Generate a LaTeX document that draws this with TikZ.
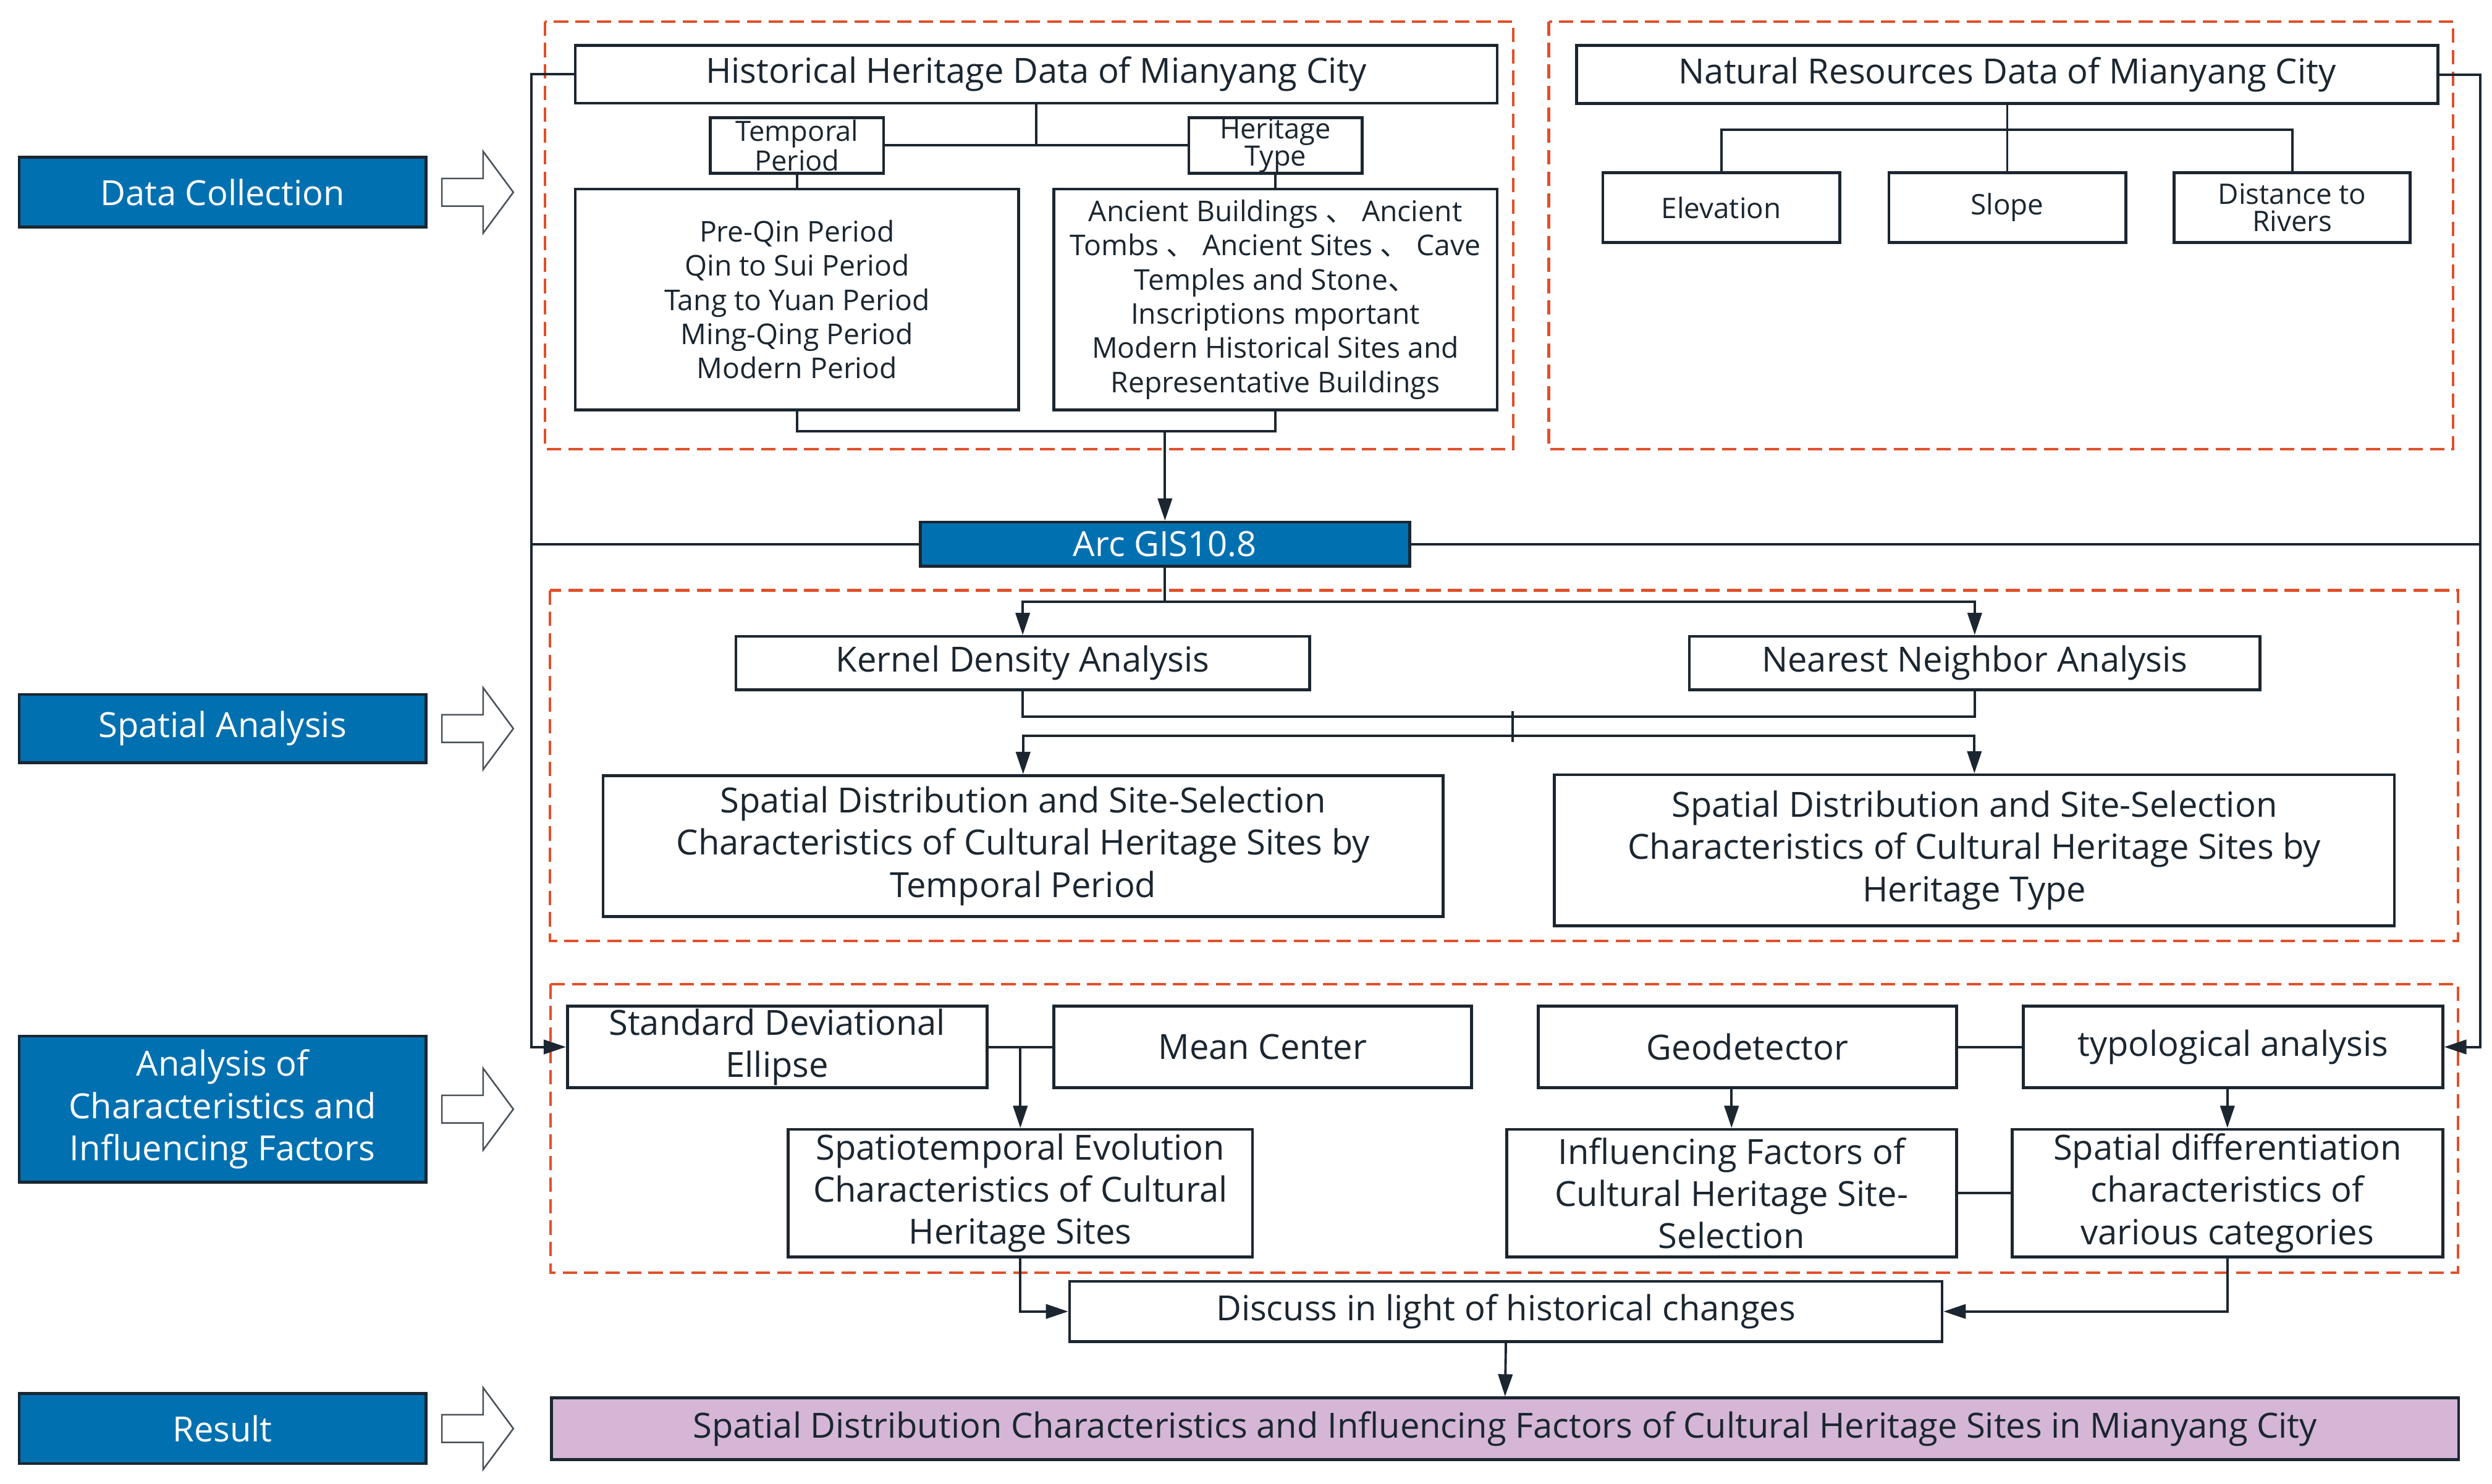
\documentclass[tikz,border=0pt]{standalone}
\usepackage{fontspec}
\setmainfont{Open Sans}
\newfontfamily\cjk{Noto Sans CJK SC}
\usetikzlibrary{arrows.meta,calc}
\definecolor{dk}{HTML}{1B2630}
\definecolor{bl}{HTML}{0070B0}
\definecolor{rd}{HTML}{E0502A}
\definecolor{pu}{HTML}{D5B6D6}
\begin{document}
\begin{tikzpicture}[x=1pt,y=-1pt,
 box/.style={draw=dk,line width=1.8pt,fill=white,inner sep=0pt,align=center,text=dk,font=\fontsize{21.8}{26.5}\selectfont},
 bluebox/.style={box,fill=bl,text=white},
 smallbox/.style={box,font=\fontsize{17.6}{17}\selectfont},
 listbox/.style={box,font=\fontsize{18}{21.5}\selectfont},
 factbox/.style={box,font=\fontsize{17.8}{17}\selectfont},
 conn/.style={draw=dk,line width=1.5pt},
 arr/.style={conn,-{Triangle[length=14pt,width=9pt]}},
 grp/.style={draw=rd,line width=1.6pt,dash pattern=on 9pt off 4.5pt},
 hol/.style={draw=dk!80,line width=1pt,fill=white}
]
\useasboundingbox (0,0) rectangle (1568,933.5);

% group frames
\draw[grp] (343,13.5) rectangle (952,282.5);
\draw[grp] (974.5,13.5) rectangle (1543.5,282.5);
\draw[grp] (346,371.5) rectangle (1546.5,592);
\draw[grp] (346.5,619.5) rectangle (1546.5,801);

% left stage labels
\node[bluebox,minimum width=256pt,minimum height=44pt] (dc) at (140,121) {Data Collection};
\node[bluebox,minimum width=256pt,minimum height=43pt] (sa) at (140,458.5) {Spatial Analysis};
\node[bluebox,minimum width=256pt,minimum height=92pt] (af) at (140,698) {Analysis of\\Characteristics and\\Influencing Factors};
\node[bluebox,minimum width=256pt,minimum height=44pt] (res) at (140,899) {Result};

\foreach \yy in {121,458.5,698,899}{
  \draw[hol] (278,\yy-8.7) -- (304,\yy-8.7) -- (304,\yy-25.7) -- (323,\yy) -- (304,\yy+25.7) -- (304,\yy+8.7) -- (278,\yy+8.7) -- cycle;
}

% data collection
\node[box,minimum width=580pt,minimum height=36.5pt] (hist) at (652,46.75) {Historical Heritage Data of Mianyang City};
\node[smallbox,minimum width=109pt,minimum height=35pt] (tp) at (501.5,91.5) {Temporal\\Period};
\node[smallbox,minimum width=109pt,minimum height=35pt] (ht) at (802.5,91.5) {Heritage\\Type};
\node[listbox,minimum width=279pt,minimum height=139pt] (per) at (501.5,188.5) {Pre-Qin Period\\Qin to Sui Period\\Tang to Yuan Period\\Ming-Qing Period\\Modern Period};
\node[listbox,minimum width=279pt,minimum height=139pt] (typs) at (802.5,188.5) {Ancient Buildings {\cjk 、} Ancient\\Tombs {\cjk 、} Ancient Sites {\cjk 、} Cave\\Temples and Stone{\cjk 、}\\Inscriptions mportant\\Modern Historical Sites and\\Representative Buildings};

\node[box,minimum width=542pt,minimum height=36.6pt] (nat) at (1263,46.9) {Natural Resources Data of Mianyang City};
\node[factbox,minimum width=149pt,minimum height=43.8pt] (elev) at (1083,130.6) {Elevation};
\node[factbox,minimum width=149pt,minimum height=43.8pt] (slope) at (1263,130.6) {Slope};
\node[factbox,minimum width=148.5pt,minimum height=43.8pt] (dist) at (1442.3,130.6) {Distance to\\Rivers};

\node[bluebox,minimum width=308pt,minimum height=27.8pt] (arc) at (733,342.4) {Arc GIS10.8};

% spatial analysis
\node[box,minimum width=361pt,minimum height=33.5pt] (kda) at (643.5,417.25) {Kernel Density Analysis};
\node[box,minimum width=359pt,minimum height=33.5pt] (nna) at (1242.5,417.25) {Nearest Neighbor Analysis};
\node[box,minimum width=528.5pt,minimum height=88.7pt] (sdl) at (643.75,532.4) {Spatial Distribution and Site-Selection\\Characteristics of Cultural Heritage Sites by\\Temporal Period};
\node[box,minimum width=528.6pt,minimum height=95pt] (sdr) at (1242.3,535.1) {Spatial Distribution and Site-Selection\\Characteristics of Cultural Heritage Sites by\\Heritage Type};

% analysis
\node[box,minimum width=264pt,minimum height=51.3pt] (sde) at (489,658.85) {Standard Deviational\\Ellipse};
\node[box,minimum width=263pt,minimum height=51.3pt] (mc) at (794.5,658.85) {Mean Center};
\node[box,minimum width=263pt,minimum height=51.3pt] (geo) at (1099.5,658.85) {Geodetector};
\node[box,minimum width=264pt,minimum height=51.3pt] (typ) at (1405,658.85) {typological analysis};
\node[box,minimum width=292pt,minimum height=80.3pt] (ste) at (642,750.85) {Spatiotemporal Evolution\\Characteristics of Cultural\\Heritage Sites};
\node[box,minimum width=283pt,minimum height=80.3pt] (inf) at (1089.5,750.85) {Influencing Factors of\\Cultural Heritage Site-\\Selection};
\node[box,minimum width=271pt,minimum height=80.3pt] (spd) at (1401.5,750.85) {Spatial differentiation\\characteristics of\\various categories};
\node[box,minimum width=549pt,minimum height=38pt] (disc) at (947.5,825.3) {Discuss in light of historical changes};
\node[box,fill=pu,minimum width=1200pt,minimum height=38.8pt] (fin) at (947,899.1) {Spatial Distribution Characteristics and Influencing Factors of Cultural Heritage Sites in Mianyang City};

% helper coordinates
\coordinate (lx) at (334.5,0);
\coordinate (rx) at (1560.5,0);
\coordinate (jb) at (501.5,271.5);
\coordinate (nb) at (1263,81.5);
\coordinate (sb) at (733,378.6);
\coordinate (m1) at (951.6,451);
\coordinate (m2) at (951.6,463);
\coordinate (mt) at (951.6,447.4);
\coordinate (mb) at (951.6,467);

% data collection connectors
\draw[conn] (hist.south) -- (hist.south |- tp.east);
\draw[conn] (tp.east) -- (ht.west);
\draw[conn] (tp.south) -- (per.north);
\draw[conn] (ht.south) -- (typs.north);
\draw[conn] (per.south) -- (jb) -- (jb -| typs.south) -- (typs.south);
\draw[arr] (jb -| arc.north) -- (arc.north);
\draw[conn] (nat.south) -- (slope.north);
\draw[conn] (elev.north) -- (elev.north |- nb) -- (dist.north |- nb) -- (dist.north);

% side lines
\draw[arr] (hist.west) -- (hist.west -| lx) -- (sde.west -| lx) -- (sde.west);
\draw[arr] (nat.east) -- (nat.east -| rx) -- (typ.east -| rx) -- (typ.east);
\draw[conn] (arc.west) -- (arc.west -| lx);
\draw[conn] (arc.east) -- (arc.east -| rx);

% spatial analysis connectors
\draw[conn] (arc.south) -- (sb);
\draw[arr] (sb) -| (kda.north);
\draw[arr] (sb) -| (nna.north);
\draw[conn] (kda.south) |- (m1) -| (nna.south);
\draw[conn] (mt) -- (mb);
\draw[arr] (m2) -| (sdl.north);
\draw[arr] (m2) -| (sdr.north);

% analysis connectors
\draw[conn] (sde.east) -- (mc.west);
\draw[arr] (ste.north |- sde.east) -- (ste.north);
\draw[conn] (geo.east) -- (typ.west);
\draw[arr] (geo.south -| inf.north) -- (inf.north);
\draw[arr] (typ.south -| spd.north) -- (spd.north);
\draw[conn] (inf.east) -- (spd.west);
\draw[arr] (ste.south) |- (disc.west);
\draw[arr] (spd.south) |- (disc.east);
\draw[arr] (disc.south) -- (fin.north);
\end{tikzpicture}
\end{document}
